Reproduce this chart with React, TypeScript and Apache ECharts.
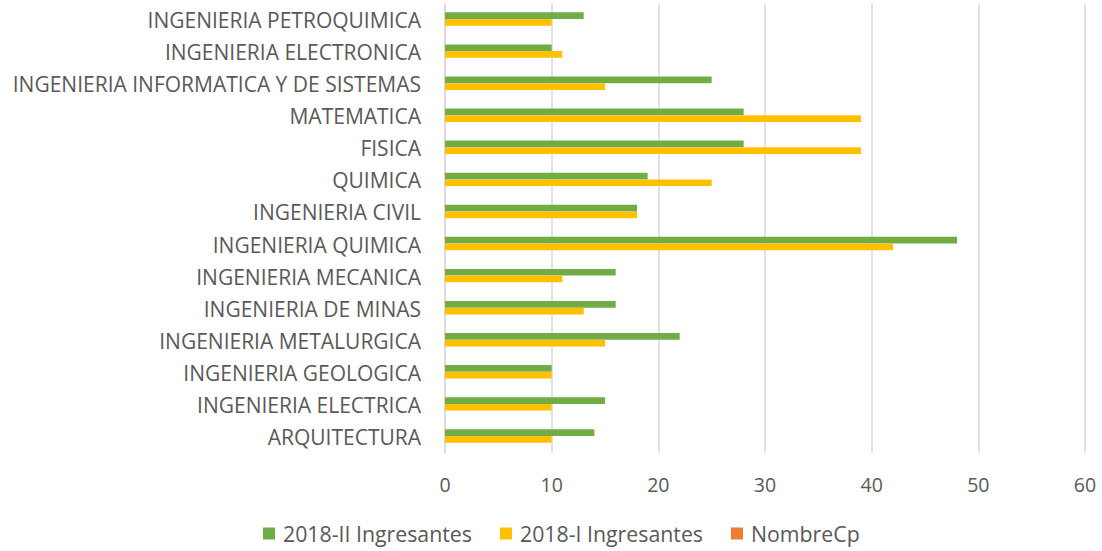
import React, { useEffect, useRef } from "react";
import * as echarts from "echarts";

const categories = [
  "ARQUITECTURA",
  "INGENIERIA ELECTRICA",
  "INGENIERIA GEOLOGICA",
  "INGENIERIA METALURGICA",
  "INGENIERIA DE MINAS",
  "INGENIERIA MECANICA",
  "INGENIERIA QUIMICA",
  "INGENIERIA CIVIL",
  "QUIMICA",
  "FISICA",
  "MATEMATICA",
  "INGENIERIA INFORMATICA Y DE SISTEMAS",
  "INGENIERIA ELECTRONICA",
  "INGENIERIA PETROQUIMICA",
];

const ingresantes2018II = [14, 15, 10, 22, 16, 16, 48, 18, 19, 28, 28, 25, 10, 13];
const ingresantes2018I = [10, 10, 10, 15, 13, 11, 42, 18, 25, 39, 39, 15, 11, 10];
const nombreCp = [0, 0, 0, 0, 0, 0, 0, 0, 0, 0, 0, 0, 0, 0];

const FONT = "Open Sans";

export default function App() {
  const ref = useRef<HTMLDivElement>(null);
  useEffect(() => {
    document.body.style.margin = "0";
    const chart = echarts.init(ref.current!, null, { renderer: "svg" });
    chart.setOption({
      animation: false,
      backgroundColor: "#ffffff",
      grid: { left: 445, right: 17, top: 4, bottom: 98, containLabel: false },
      legend: {
        bottom: 2,
        left: 258,
        itemWidth: 12,
        itemHeight: 12,
        itemGap: 28,
        icon: "rect",
        textStyle: { fontFamily: FONT, fontSize: 21.3, color: "#595959", padding: [0, 0, 0, 3] },
        data: ["2018-II Ingresantes", "2018-I Ingresantes", "NombreCp"],
      },
      xAxis: {
        type: "value",
        min: 0,
        max: 60,
        interval: 10,
        axisLine: { show: false },
        axisTick: { show: false },
        splitLine: { lineStyle: { color: "#d9d9d9", width: 1.5 } },
        axisLabel: { fontFamily: FONT, fontSize: 19.5, color: "#595959", margin: 21 },
      },
      yAxis: {
        type: "category",
        data: categories,
        axisLine: { lineStyle: { color: "#d9d9d9", width: 1.5 } },
        axisTick: { show: false },
        axisLabel: { fontFamily: FONT, fontSize: 21, color: "#595959", margin: 24 },
      },
      series: [
        {
          name: "2018-II Ingresantes",
          type: "bar",
          data: ingresantes2018II,
          barWidth: 6.7,
          barGap: "0%",
          itemStyle: { color: "#70AD47" },
        },
        {
          name: "2018-I Ingresantes",
          type: "bar",
          data: ingresantes2018I,
          barWidth: 6.7,
          barGap: "0%",
          itemStyle: { color: "#FFC000" },
        },
        {
          name: "NombreCp",
          type: "bar",
          data: nombreCp,
          barWidth: 2,
          barGap: "0%",
          itemStyle: { color: "#ED7D31" },
        },
      ],
    });
    return () => chart.dispose();
  }, []);
  return <div ref={ref} style={{ width: 1102, height: 551 }} />;
}
